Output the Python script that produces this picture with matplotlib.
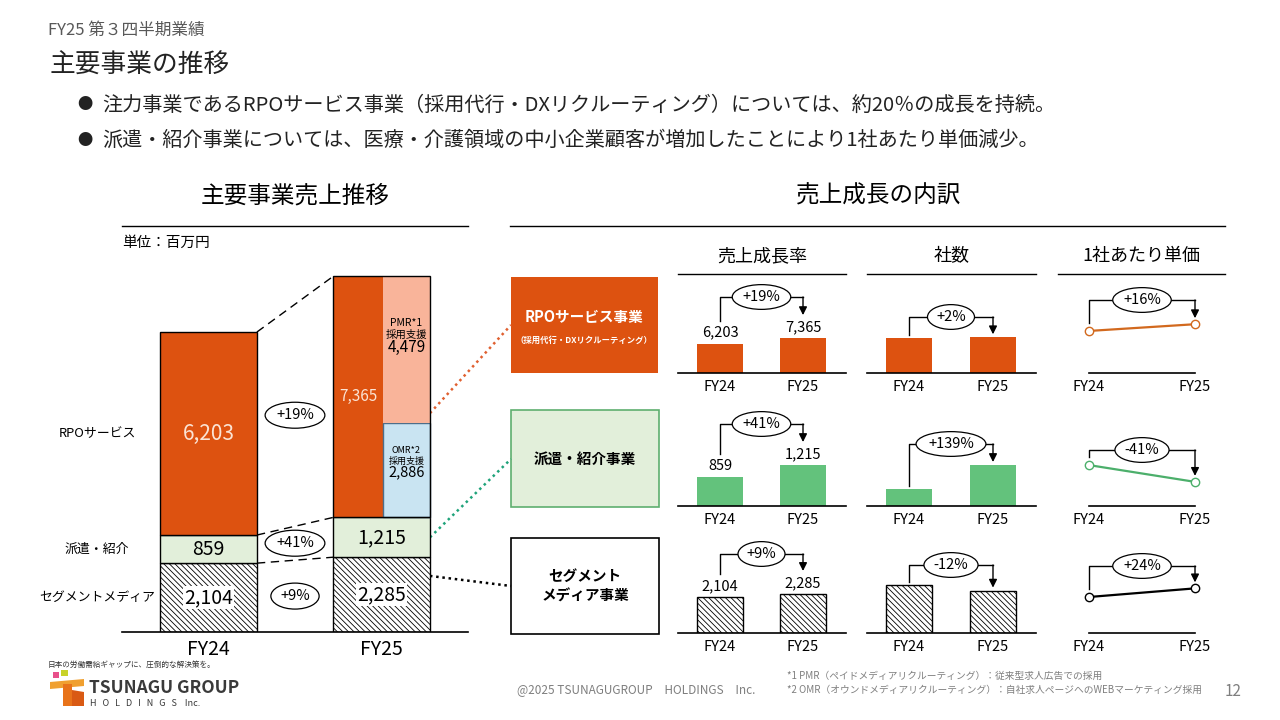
import matplotlib.pyplot as plt
import numpy as np
from matplotlib.patches import Rectangle, Polygon

plt.rcParams['font.family'] = ['Noto Sans CJK JP', 'DejaVu Sans']
plt.rcParams['hatch.linewidth'] = 0.6

# ---- data ----
years = ['FY24', 'FY25']
media = [2104, 2285]          # セグメントメディア
haken = [859, 1215]           # 派遣・紹介
rpo = [6203, 7365]            # RPOサービス
rpo_pmr = 4479
rpo_omr = 2886
seg_labels = ['RPOサービス', '派遣・紹介', 'セグメントメディア']

# 社数 / 1社あたり単価 (FY24 = 100)
company_rpo = [100, 102]
company_haken = [100, 239]
company_media = [100, 88]
price_rpo = [100, 116]
price_haken = [100, 59]
price_media = [100, 124]

growth_sales = ['+19%', '+41%', '+9%']
growth_company = ['+2%', '+139%', '-12%']
growth_price = ['+16%', '-41%', '+24%']

ORANGE = '#DD5210'
PMR = '#F9B49A'
OMR = '#C9E4F2'
LGREEN = '#E2EFDA'
GREEN = '#63C27C'
GRAY = '#595959'
HATCH = '\\\\\\\\\\\\'

fig = plt.figure(figsize=(12.8, 7.2), dpi=100)
bg = fig.add_axes([0, 0, 1, 1])
bg.set_xlim(0, 1280)
bg.set_ylim(720, 0)
bg.axis('off')


def box(x0, y0, x1, y1):
    ax = fig.add_axes([x0 / 1280, 1 - y1 / 720, (x1 - x0) / 1280, (y1 - y0) / 720])
    ax.patch.set_alpha(0)
    for s in ['top', 'left', 'right']:
        ax.spines[s].set_visible(False)
    ax.spines['bottom'].set_linewidth(1.2)
    ax.set_yticks([])
    return ax


def px(ax, x, y):
    return bg.transData.inverted().transform(ax.transData.transform((x, y)))


# ---- header texts ----
bg.text(48, 30, 'FY25 第３四半期業績', fontsize=12, color=GRAY, va='center')
bg.text(50, 66, '主要事業の推移', fontsize=18.5, color='#222222', va='center')
bullets = ['注力事業であるRPOサービス事業（採用代行・DXリクルーティング）については、約20％の成長を持続。',
           '派遣・紹介事業については、医療・介護領域の中小企業顧客が増加したことにより1社あたり単価減少。']
for yy, t in zip([105, 140], bullets):
    bg.text(85, yy, '●', fontsize=11, ha='center', va='center', color='#222222')
    bg.text(102, yy, t, fontsize=14.5, va='center', color='#222222')

bg.text(295, 196, '主要事業売上推移', fontsize=17, ha='center', va='center')
bg.plot([122, 468], [226, 226], color='black', lw=1)
bg.text(122, 243, '単位：百万円', fontsize=10.5, va='center')
bg.text(879, 196, '売上成長の内訳', fontsize=17, ha='center', va='center')
bg.plot([510, 1225], [226, 226], color='black', lw=1)

# ---- left stacked chart ----
axL = box(122, 272, 468, 632)
x = np.arange(2)
w = 0.56
bot2 = np.add(media, haken)
axL.bar(x, media, w, color='white', edgecolor='black', hatch=HATCH, lw=1)
axL.bar(x, haken, w, bottom=media, color=LGREEN, edgecolor='black', lw=1)
axL.bar(x, rpo, w, bottom=bot2, color=ORANGE, edgecolor='none')
off, sw = 0.1445, 0.272
axL.bar(1 + off, rpo_omr, sw, bottom=bot2[1], color=OMR, edgecolor='#4d6e8a', lw=1)
axL.bar(1 + off, rpo_pmr, sw, bottom=bot2[1] + rpo_omr, color=PMR, edgecolor='none')
axL.bar(x, rpo, w, bottom=bot2, color='none', edgecolor='black', lw=1)
axL.set_xlim(-0.5, 1.5)
axL.set_ylim(0, 11000)
axL.set_xticks(x, years)
axL.tick_params(length=0, labelsize=14, pad=5)

axL.text(0, bot2[0] + rpo[0] / 2, f'{rpo[0]:,}', ha='center', va='center', fontsize=15, color='#FBE3D4')
axL.text(1 - w / 4 + 0.005, bot2[1] + rpo[1] / 2, f'{rpo[1]:,}', ha='center', va='center', fontsize=11, color='#FBE3D4')
pm = bot2[1] + rpo_omr + rpo_pmr * 0.57
axL.text(1 + off, pm, 'PMR*1\n採用支援', ha='center', va='bottom', fontsize=7.5, linespacing=1.2)
axL.text(1 + off, pm, f'{rpo_pmr:,}', ha='center', va='top', fontsize=11)
om = bot2[1] + rpo_omr * 0.55
axL.text(1 + off, om, 'OMR*2\n採用支援', ha='center', va='bottom', fontsize=6.5, linespacing=1.2)
axL.text(1 + off, om, f'{rpo_omr:,}', ha='center', va='top', fontsize=10.5)
for i in range(2):
    axL.text(i, media[i] + haken[i] / 2, f'{haken[i]:,}', ha='center', va='center', fontsize=14)
    axL.text(i, media[i] / 2, f'{media[i]:,}', ha='center', va='center', fontsize=14,
             bbox=dict(fc='white', ec='none', pad=1))

# dashed connectors between years + growth ellipses + category labels
tops = [np.array(media), bot2, bot2 + np.array(rpo)]
mids = [np.array(media) / 2, np.array(media) + np.array(haken) / 2, bot2 + np.array(rpo) / 2]
for t in tops:
    a = px(axL, w / 2, t[0])
    b = px(axL, 1 - w / 2, t[1])
    bg.plot([a[0], b[0]], [a[1], b[1]], color='black', lw=1, ls=(0, (6, 4)))
for m, g, lab in zip(mids[::-1], growth_sales, seg_labels):
    y0 = px(axL, 0, m[0])[1]
    y1 = px(axL, 1, m[1])[1]
    bg.text(295, (y0 + y1) / 2, g, ha='center', va='center', fontsize=10.5,
            bbox=dict(boxstyle='ellipse,pad=0.15', fc='white', ec='black', lw=0.9))
    bg.text(97, y0, lab, ha='center', va='center', fontsize=9.3)

# dotted links to segment boxes
p_or = px(axL, 1 + w / 2, bot2[1] + rpo_omr + 300)
p_gr = px(axL, 1 + w / 2, media[1] + haken[1] / 2)
p_bk = px(axL, 1 + w / 2, media[1] * 0.75)
bg.plot([p_or[0], 511], [p_or[1], 325], color='#E06030', lw=1.8, ls=(0, (1, 1.5)))
bg.plot([p_gr[0], 511], [p_gr[1], 459], color='#1FA37A', lw=1.8, ls=(0, (1, 1.5)))
bg.plot([p_bk[0], 511], [p_bk[1], 586], color='black', lw=1.8, ls=(0, (1, 1.5)))

# ---- segment boxes ----
bg.add_patch(Rectangle((511, 277), 147, 96, fc=ORANGE, ec='none'))
bg.text(584, 317, 'RPOサービス事業', ha='center', va='center', fontsize=10.5, color='white', weight='bold')
bg.text(584, 340, '（採用代行・DXリクルーティング）', ha='center', va='center', fontsize=6, color='white', weight='bold')
bg.add_patch(Rectangle((511, 410), 148, 97, fc=LGREEN, ec='#5FAF6F', lw=1.2))
bg.text(585, 459, '派遣・紹介事業', ha='center', va='center', fontsize=10.5, weight='bold')
bg.add_patch(Rectangle((511, 538), 148, 96, fc='white', ec='black', lw=1.2))
bg.text(585, 586, 'セグメント\nメディア事業', ha='center', va='center', fontsize=10.5, weight='bold',
        linespacing=1.25)

# ---- column headers ----
heads = ['売上成長率', '社数', '1社あたり単価']
head_x = [(678, 846), (867, 1036), (1058, 1225)]
for h, (a, b) in zip(heads, head_x):
    bg.text((a + b) / 2, 256, h, ha='center', va='center', fontsize=13)
    bg.plot([a, b], [274, 274], color='black', lw=1)

# ---- small charts ----
baselines = [373, 506, 633]
sales_rows = [rpo, haken, media]
company_rows = [company_rpo, company_haken, company_media]
price_rows = [price_rpo, price_haken, price_media]
sales_ymax = [19000, 2670, 5270]
company_ymax = [257, 525, 187]
price_ymax = [214, 220, 250]
bar_style = [dict(color=ORANGE), dict(color=GREEN),
             dict(color='white', edgecolor='black', hatch=HATCH, lw=1)]
line_col = ['#D2691E', '#4CAF6B', 'black']
bracket_y = [[297, 317, 300], [424, 444, 450], [554, 565, 566]]


def bracket(ax, vals, yb, label, gl, gr):
    p0 = px(ax, 0, vals[0])
    p1 = px(ax, 1, vals[1])
    bg.plot([p0[0], p0[0], p1[0]], [p0[1] - gl, yb, yb], color='black', lw=1)
    bg.annotate('', xy=(p1[0], p1[1] - gr), xytext=(p1[0], yb),
                arrowprops=dict(arrowstyle='-|>', color='black', lw=1, shrinkA=0, shrinkB=0,
                                mutation_scale=12))
    bg.text((p0[0] + p1[0]) / 2, yb, label, ha='center', va='center', fontsize=10.5, zorder=5,
            bbox=dict(boxstyle='ellipse,pad=0.12', fc='white', ec='black', lw=0.9))


for r in range(3):
    base = baselines[r]
    # 売上
    ax = box(678, base - 90, 846, base)
    ax.bar(x, sales_rows[r], 0.55, **bar_style[r])
    ax.set_xlim(-0.506, 1.518)
    ax.set_ylim(0, sales_ymax[r])
    ax.set_xticks(x, years)
    ax.tick_params(length=0, labelsize=10.5, pad=5)
    for i, v in enumerate(sales_rows[r]):
        ax.annotate(f'{v:,}', (i, v), xytext=(0, 3), textcoords='offset points',
                    ha='center', va='bottom', fontsize=10.5, annotation_clip=False)
    bracket(ax, sales_rows[r], bracket_y[r][0], growth_sales[r], 23, 23)

    # 社数
    ax = box(867, base - 90, 1036, base)
    ax.bar(x, company_rows[r], 0.55, **bar_style[r])
    ax.set_xlim(-0.5, 1.512)
    ax.set_ylim(0, company_ymax[r])
    ax.set_xticks(x, years)
    ax.tick_params(length=0, labelsize=10.5, pad=5)
    bracket(ax, company_rows[r], bracket_y[r][1], growth_company[r], 3, 3)

    # 1社あたり単価
    ax = box(1089, base - 90, 1195, base)
    ax.plot(x, price_rows[r], '-o', color=line_col[r], lw=1.6, ms=6, mfc='white',
            mec=line_col[r], mew=1, clip_on=False)
    ax.set_xlim(0, 1)
    ax.set_ylim(0, price_ymax[r])
    ax.set_xticks(x, years)
    ax.tick_params(length=0, labelsize=10.5, pad=5)
    bracket(ax, price_rows[r], bracket_y[r][2], growth_price[r], 8, 6)

# ---- footer ----
bg.text(48, 665, '日本の労働需給ギャップに、圧倒的な解決策を。', fontsize=5.5, va='center', color='#333333')
bg.add_patch(Rectangle((53, 672), 6, 6, fc='#E8508A', ec='none'))
bg.add_patch(Rectangle((61, 670), 7, 6, fc='#C8D22A', ec='none'))
bg.add_patch(Polygon([[50, 682], [84, 679], [84, 686], [50, 689]], fc='#F0A030', ec='none'))
bg.add_patch(Rectangle((63, 684), 9, 22, fc='#E8731A', ec='none'))
bg.add_patch(Polygon([[72, 690], [84, 692], [84, 706], [72, 706]], fc='#D95A14', ec='none'))
bg.text(89, 688, 'TSUNAGU GROUP', fontsize=12.5, weight='bold', va='center', color='#3a3a3a')
bg.text(90, 704, 'H   O   L   D   I   N   G   S    Inc.', fontsize=6.5, va='center', color='#3a3a3a')
bg.text(636, 690, '@2025 TSUNAGUGROUP　HOLDINGS　Inc.', fontsize=8.5, ha='center', va='center', color='#7f7f7f')
bg.text(787, 676, '*1 PMR（ペイドメディアリクルーティング）：従来型求人広告での採用', fontsize=7, va='center', color='#7f7f7f')
bg.text(787, 690, '*2 OMR（オウンドメディアリクルーティング）：自社求人ページへのWEBマーケティング採用', fontsize=7, va='center', color='#7f7f7f')
bg.text(1233, 691, '12', fontsize=11, ha='center', va='center', color='#7f7f7f')

fig.savefig('out.png', dpi=100)
